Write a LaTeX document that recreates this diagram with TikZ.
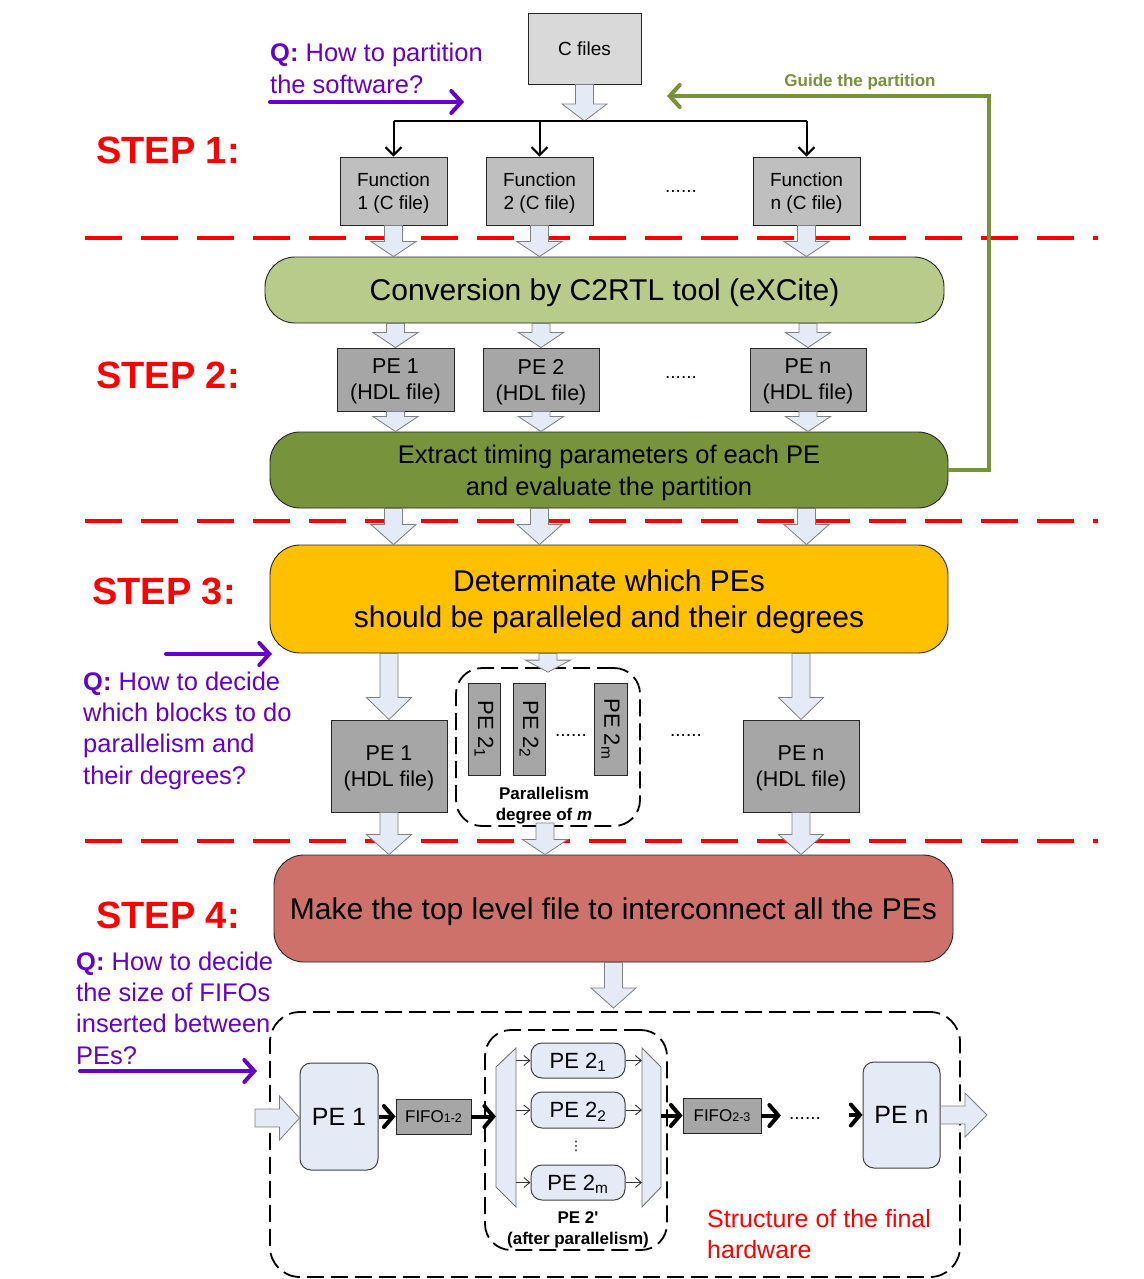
\documentclass[tikz,border=0pt]{standalone}
\usepackage{fontspec}
\setmainfont{Liberation Sans}
\newfontfamily\dvs{DejaVu Sans}
\usetikzlibrary{arrows.meta,calc}
\definecolor{cfgray}{HTML}{D9D9D9}
\definecolor{fngray}{HTML}{BFBFBF}
\definecolor{pegray}{HTML}{A6A6A6}
\definecolor{convgreen}{HTML}{B7CB8A}
\definecolor{extgreen}{HTML}{77933C}
\definecolor{sthreeyellow}{HTML}{FFC000}
\definecolor{sfourred}{HTML}{CD716A}
\definecolor{lblue}{HTML}{E4EBF6}
\definecolor{qpurple}{HTML}{6600CC}
\definecolor{gline}{HTML}{76923C}
\definecolor{stepred}{HTML}{FF0000}
\newcommand{\fs}[2]{\fontsize{#1}{#2}\selectfont}
% block arrow pointing down: [head length]{start}{tip}
\newcommand{\bdown}[3][18]{%
  \draw[barrow] let \p1=#2, \p2=#3 in
    (\x1-9pt,\y1) -- (\x1-9pt,\y2+#1pt) -- (\x1-22.5pt,\y2+#1pt) -- (\x1,\y2)
    -- (\x1+22.5pt,\y2+#1pt) -- (\x1+9pt,\y2+#1pt) -- (\x1+9pt,\y1) -- cycle;}
% block arrow pointing right: [head length]{start}{tip}
\newcommand{\bright}[3][21]{%
  \draw[barrow] let \p1=#2, \p2=#3 in
    (\x1,\y1+9pt) -- (\x2-#1pt,\y1+9pt) -- (\x2-#1pt,\y1+22pt) -- (\x2,\y1)
    -- (\x2-#1pt,\y1-22pt) -- (\x2-#1pt,\y1-9pt) -- (\x1,\y1-9pt) -- cycle;}
\tikzset{
  box/.style={draw=black!85, line width=0.9pt, inner sep=0pt, align=center, text depth=0pt},
  rbox/.style={box, rounded corners=30pt},
  lbbox/.style={draw=black!75, line width=1pt, fill=lblue, rounded corners=11pt, inner sep=0pt, align=center, text depth=0pt},
  barrow/.style={draw=black!50, fill=lblue, line width=0.8pt, line join=miter},
  reddash/.style={draw=stepred, line width=4.5pt, dash pattern=on 37pt off 19pt},
  blkdash/.style={draw=black, line width=1.8pt, dash pattern=on 17pt off 7pt, rounded corners=26pt},
  steplab/.style={anchor=west, text=stepred, font=\fs{38}{44}\bfseries, inner sep=0pt},
  qtext/.style={anchor=west, text=qpurple, align=left, inner sep=0pt, font=\fs{25.5}{31.3}},
  qarrow/.style={draw=qpurple, line width=4pt, line cap=round, -{Straight Barb[length=10pt,width=22pt,line cap=round]}},
  garrow/.style={draw=gline, line width=4pt, -{Straight Barb[length=10pt,width=22pt,line cap=round]}},
  tarrow/.style={draw=black, line width=2pt, -{Straight Barb[length=8pt,width=16pt]}},
  harrow/.style={draw=black, line width=4pt, -{Straight Barb[length=9pt,width=21pt,line cap=round]}},
  sarrow/.style={draw=black!80, line width=0.9pt, -{Straight Barb[length=6pt,width=10pt]}},
  muxst/.style={draw=black!55, fill=lblue, line width=0.9pt},
  dotst/.style={inner sep=0pt, font=\fs{19}{23}},
  fnfont/.style={font=\fs{19}{23}},
  pefont/.style={font=\fs{21.5}{26}},
  bigfont/.style={font=\fs{30}{36}},
  boldlab/.style={inner sep=0pt, align=center, font=\fs{17}{21}\bfseries},
}
\begin{document}
\begin{tikzpicture}[x=1pt,y=-1pt]
\useasboundingbox (0,0) rectangle (1143,1279);
\fill[white] (0,0) rectangle (1143,1279);

% ---------- STEP 1 ----------
\node[steplab] (st1) at (96,150) {STEP 1:};
\node[box, fnfont, fill=cfgray, minimum width=113pt, minimum height=71pt] (cf) at (584.5,48.5) {C files};
\coordinate (split) at (584.5,121);
\node[box, fnfont, fill=fngray, minimum width=107pt, minimum height=68pt] (f1) at (393.5,191) {Function\\1 (C file)};
\node[box, fnfont, fill=fngray, minimum width=107pt, minimum height=68pt] (f2) at (539.5,191) {Function\\2 (C file)};
\node[box, fnfont, fill=fngray, minimum width=107pt, minimum height=68pt] (fn) at (806.5,191) {Function\\n (C file)};
\node[dotst] (d1) at (681,191) {......};
\bdown[17]{(cf.south)}{(split)}
\draw[black, line width=2pt] (f1.north |- split) -- (fn.north |- split);
\draw[tarrow] (f1.north |- split) -- (f1.north);
\draw[tarrow] (f2.north |- split) -- (f2.north);
\draw[tarrow] (fn.north |- split) -- (fn.north);

\node[qtext] (q1) at (270,68.5) {\textbf{Q:} How to partition\\the software?};
\coordinate (qa1s) at (270,102);
\coordinate (qa1e) at (464,102);
\draw[qarrow] (qa1s) -- (qa1e);

% ---------- STEP 2 ----------
\draw[reddash] (85,238) -- (1098,238);
\node[steplab] (st2) at (96,375) {STEP 2:};
\node[rbox, bigfont, fill=convgreen, minimum width=679pt, minimum height=66pt] (conv) at (604.5,290) {Conversion by C2RTL tool (eXCite)};
\bdown[15]{(f1.south)}{(f1.south |- conv.north)}
\bdown[15]{(f2.south)}{(f2.south |- conv.north)}
\bdown[15]{(fn.south)}{(fn.south |- conv.north)}
\node[box, pefont, fill=pegray, minimum width=117pt, minimum height=63pt] (p1) at (395.5,379.5) {PE 1\\(HDL file)};
\node[box, pefont, fill=pegray, minimum width=116pt, minimum height=63pt] (p2) at (541,379.5) {PE 2\\(HDL file)};
\node[box, pefont, fill=pegray, minimum width=116pt, minimum height=63pt] (pn) at (808,379.5) {PE n\\(HDL file)};
\node[dotst] (d2) at (681,377) {......};
\bdown[15]{(conv.south -| p1.north)}{(p1.north)}
\bdown[15]{(conv.south -| p2.north)}{(p2.north)}
\bdown[15]{(conv.south -| pn.north)}{(pn.north)}
\node[rbox, fill=extgreen, font=\fs{25.5}{32}, minimum width=678pt, minimum height=76pt] (ext) at (609,470) {Extract timing parameters of each PE\\and evaluate the partition};
\bdown[15]{(p1.south)}{(p1.south |- ext.north)}
\bdown[15]{(p2.south)}{(p2.south |- ext.north)}
\bdown[15]{(pn.south)}{(pn.south |- ext.north)}

\coordinate (gturn) at (989,96);
\coordinate (gend) at (667,96);
\draw[garrow] (ext.east) -| (gturn) -- (gend);
\node[text=gline, font=\fs{17}{20}\bfseries, inner sep=0pt] (guide) at (860,82) {Guide the partition};

% ---------- STEP 3 ----------
\draw[reddash] (85,521) -- (1098,521);
\node[steplab] (st3) at (92,591) {STEP 3:};
\node[rbox, bigfont, fill=sthreeyellow, minimum width=678pt, minimum height=108pt] (s3) at (609,599) {Determinate which PEs\\should be paralleled and their degrees};
\bdown[20]{(ext.south -| f1.south)}{(f1.south |- s3.north)}
\bdown[20]{(ext.south -| f2.south)}{(f2.south |- s3.north)}
\bdown[20]{(ext.south -| fn.south)}{(fn.south |- s3.north)}

\node[box, pefont, fill=pegray, minimum width=116pt, minimum height=92pt] (r1) at (389,766) {PE 1\\(HDL file)};
\node[box, pefont, fill=pegray, minimum width=116pt, minimum height=92pt] (rn) at (801,766) {PE n\\(HDL file)};
\node[blkdash, minimum width=184pt, minimum height=158pt, inner sep=0pt] (par) at (548,747) {};
\node[box, fill=pegray, minimum width=32pt, minimum height=92pt] (v1) at (484,729) {};
\node[box, fill=pegray, minimum width=32pt, minimum height=92pt] (v2) at (529,729) {};
\node[box, fill=pegray, minimum width=33pt, minimum height=92pt] (vm) at (610.5,729) {};
\node[rotate=-90, inner sep=0pt, font=\fs{22}{26}] (v1t) at (v1.center) {PE 2\textsubscript{1}};
\node[rotate=-90, inner sep=0pt, font=\fs{22}{26}] (v2t) at (v2.center) {PE 2\textsubscript{2}};
\node[rotate=-90, inner sep=0pt, font=\fs{22}{26}] (vmt) at (vm.center) {PE 2\textsubscript{m}};
\node[dotst] (d3) at (571,735) {......};
\node[dotst] (d4) at (686,735) {......};
\node[boldlab] (parlab) at (544,805.5) {Parallelism\\degree of \textit{m}};
\bdown[22]{(s3.south -| r1.north)}{(r1.north)}
\bdown[22]{(s3.south -| rn.north)}{(rn.north)}
\coordinate (parin) at ($(par.north)+(0,5)$);
\bdown[12]{(s3.south -| parin)}{(parin)}

\node[qtext] (q3) at (83,730.5) {\textbf{Q:} How to decide\\which blocks to do\\parallelism and\\their degrees?};
\coordinate (qa3s) at (166,654);
\coordinate (qa3e) at (272,654);
\draw[qarrow] (qa3s) -- (qa3e);

% ---------- STEP 4 ----------
\draw[reddash] (85,841) -- (1098,841);
\node[steplab] (st4) at (96,915) {STEP 4:};
\node[rbox, bigfont, fill=sfourred, minimum width=679pt, minimum height=107pt] (s4) at (613.5,908.5) {Make the top level file to interconnect all the PEs};
\bdown[20]{(r1.south)}{(r1.south |- s4.north)}
\bdown[20]{(rn.south)}{(rn.south |- s4.north)}
\coordinate (parout) at ($(par.south)+(-3,-4)$);
\bdown[15]{(parout)}{(parout |- s4.north)}

\node[qtext] (q4) at (76,1008) {\textbf{Q:} How to decide\\the size of FIFOs\\inserted between\\PEs?};
\coordinate (qa4s) at (80,1071);
\coordinate (qa4e) at (257,1071);
\draw[qarrow] (qa4s) -- (qa4e);

% ---------- final hardware ----------
\node[blkdash, rounded corners=30pt, minimum width=690pt, minimum height=265pt, inner sep=0pt] (hw) at (615,1144.5) {};
\coordinate (hwin) at (614,1008);
\bdown[20]{(s4.south)}{(hwin)}

\node[lbbox, font=\fs{25}{30}, minimum width=78pt, minimum height=107pt] (e1) at (339,1116.5) {PE 1};
\coordinate (inarr) at (255,1118);
\bright[20]{(inarr)}{(e1.west |- inarr)}
\node[box, fill=pegray, font=\fs{17}{20}, minimum width=75pt, minimum height=35pt] (fifo1) at (433.5,1116.5) {FIFO{\fs{12.5}{15}1-2}};
\draw[harrow] (e1.east |- fifo1) -- (fifo1.west);

\node[blkdash, minimum width=182pt, minimum height=220pt, inner sep=0pt] (par2) at (576,1140) {};
\draw[muxst] (496,1067) -- (516,1048) -- (516,1207) -- (496,1187) -- cycle;
\draw[muxst] (642,1048) -- (661,1067) -- (661,1187) -- (642,1207) -- cycle;
\coordinate (dmxin) at (496,1117);
\coordinate (dmxout) at (516,1117);
\coordinate (mxin) at (642,1117);
\coordinate (mxout) at (661,1117);
\draw[harrow] (fifo1.east) -- (dmxin |- fifo1.east);

\node[lbbox, font=\fs{22}{26}, minimum width=94pt, minimum height=35pt] (b1) at (578,1060.5) {PE 2\textsubscript{1}};
\node[lbbox, font=\fs{22}{26}, minimum width=94pt, minimum height=36pt] (b2) at (578,1110) {PE 2\textsubscript{2}};
\node[lbbox, font=\fs{22}{26}, minimum width=94pt, minimum height=35pt] (bm) at (578,1182.5) {PE 2\textsubscript{m}};
\node[inner sep=0pt, font=\dvs\fs{13}{15}] (vd) at (576,1146) {⋮};
\draw[sarrow] (dmxout |- b1) -- (b1.west);
\draw[sarrow] (dmxout |- b2) -- (b2.west);
\draw[sarrow] (dmxout |- bm) -- (bm.west);
\draw[sarrow] (b1.east) -- (mxin |- b1);
\draw[sarrow] (b2.east) -- (mxin |- b2);
\draw[sarrow] (bm.east) -- (mxin |- bm);
\node[boldlab] (par2lab) at (578,1229.5) {PE 2\textquotesingle\\(after parallelism)};

\node[box, fill=pegray, font=\fs{17}{20}, minimum width=78pt, minimum height=35pt] (fifo2) at (722,1115.5) {FIFO{\fs{12.5}{15}2-3}};
\draw[harrow] (mxout |- fifo2) -- (fifo2.west);
\coordinate (f2end) at (781,1115.5);
\draw[harrow] (fifo2.east) -- (f2end);
\node[dotst] (d5) at (805,1118) {......};
\node[lbbox, font=\fs{25}{30}, minimum width=77pt, minimum height=106pt] (en) at (901.5,1115) {PE n};
\coordinate (enin) at (849,1115);
\draw[harrow] (enin) -- (en.west);
\coordinate (outarr) at (987,1115);
\bright[22]{(en.east)}{(outarr)}

\node[anchor=west, align=left, text=stepred, inner sep=0pt, font=\fs{25}{31}] (strlab) at (707,1234.5) {Structure of the final\\hardware};
\end{tikzpicture}
\end{document}
